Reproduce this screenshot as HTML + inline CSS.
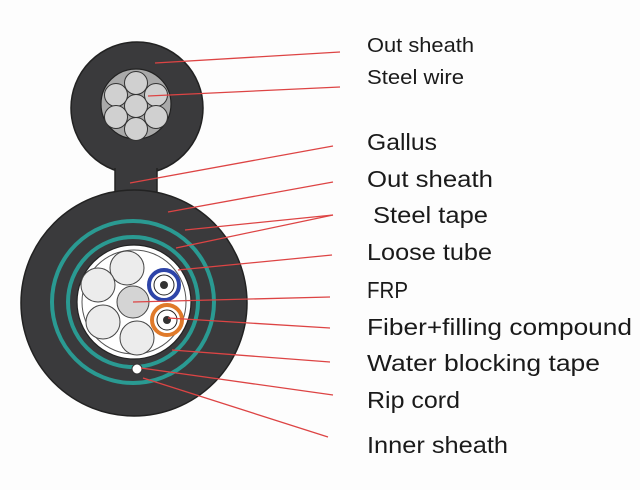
<!DOCTYPE html>
<html><head><meta charset="utf-8"><style>html,body{margin:0;padding:0;background:#fff}svg{display:block}</style></head>
<body>
<svg width="640" height="490" viewBox="0 0 640 490" xmlns="http://www.w3.org/2000/svg">
<rect width="640" height="490" fill="#fdfdfd"/>
<circle cx="137" cy="108" r="66" fill="#3a3a3c" stroke="#222" stroke-width="1.5"/>
<rect x="115" y="165" width="42" height="35" fill="#3a3a3c"/>
<line x1="115" y1="168" x2="115" y2="195" stroke="#222" stroke-width="1.5"/>
<line x1="157" y1="168" x2="157" y2="195" stroke="#222" stroke-width="1.5"/>
<circle cx="136" cy="104" r="35" fill="#a9a9a9" stroke="#222" stroke-width="1.2"/>
<g fill="#d0d0d0" stroke="#333" stroke-width="1">
<circle cx="136" cy="106" r="11.5"/><circle cx="136" cy="83" r="11.5"/><circle cx="136" cy="129" r="11.5"/>
<circle cx="116" cy="95" r="11.5"/><circle cx="156" cy="95" r="11.5"/><circle cx="116" cy="117" r="11.5"/><circle cx="156" cy="117" r="11.5"/>
</g>
<circle cx="134" cy="303" r="113" fill="#3a3a3c" stroke="#222" stroke-width="1.5"/>
<circle cx="133" cy="302" r="81" fill="none" stroke="#2a9a92" stroke-width="4"/>
<circle cx="133" cy="302" r="65" fill="none" stroke="#2a9a92" stroke-width="4"/>
<circle cx="134" cy="302" r="57" fill="#fff" stroke="#222" stroke-width="1.2"/>
<circle cx="134" cy="302" r="52" fill="#fff" stroke="#555" stroke-width="1"/>
<g fill="#ececec" stroke="#444" stroke-width="1">
<circle cx="127" cy="268" r="17"/><circle cx="98" cy="285" r="17"/><circle cx="103" cy="322" r="17"/><circle cx="137" cy="338" r="17"/>
</g>
<circle cx="133" cy="302" r="16" fill="#d4d4d4" stroke="#444" stroke-width="1"/>
<circle cx="164" cy="285" r="15" fill="#fff" stroke="#2d44a8" stroke-width="4"/>
<circle cx="164" cy="285" r="10" fill="none" stroke="#222" stroke-width="1"/>
<circle cx="164" cy="285" r="4" fill="#333"/>
<circle cx="167" cy="320" r="15" fill="#fff" stroke="#e07a2a" stroke-width="4"/>
<circle cx="167" cy="320" r="10" fill="none" stroke="#222" stroke-width="1"/>
<circle cx="167" cy="320" r="4" fill="#333"/>
<circle cx="137" cy="369" r="5" fill="#fff" stroke="#333" stroke-width="1"/>
<g stroke="#d44" stroke-width="1.3" fill="none">
<line x1="155" y1="63" x2="340" y2="52"/>
<line x1="148" y1="96" x2="340" y2="87"/>
<line x1="130" y1="183" x2="333" y2="146"/>
<line x1="168" y1="212" x2="333" y2="182"/>
<line x1="185" y1="230" x2="333" y2="215"/>
<line x1="176" y1="248" x2="333" y2="215"/>
<line x1="178" y1="270" x2="332" y2="255"/>
<line x1="133" y1="302" x2="330" y2="297"/>
<line x1="168" y1="318" x2="330" y2="328"/>
<line x1="172" y1="350" x2="330" y2="362"/>
<line x1="141" y1="368" x2="333" y2="395"/>
<line x1="143" y1="378" x2="328" y2="437"/>
</g>
<g font-family="Liberation Sans, sans-serif" fill="#1a1a1a">
<text x="367" y="52" font-size="20" textLength="107" lengthAdjust="spacingAndGlyphs">Out sheath</text>
<text x="367" y="84" font-size="20" textLength="97" lengthAdjust="spacingAndGlyphs">Steel wire</text>
<text x="367" y="150" font-size="23" textLength="70" lengthAdjust="spacingAndGlyphs">Gallus</text>
<text x="367" y="187" font-size="23" textLength="126" lengthAdjust="spacingAndGlyphs">Out sheath</text>
<text x="373" y="223" font-size="23" textLength="115" lengthAdjust="spacingAndGlyphs">Steel tape</text>
<text x="367" y="260" font-size="23" textLength="125" lengthAdjust="spacingAndGlyphs">Loose tube</text>
<text x="367" y="298" font-size="23" textLength="41" lengthAdjust="spacingAndGlyphs">FRP</text>
<text x="367" y="335" font-size="23" textLength="265" lengthAdjust="spacingAndGlyphs">Fiber+filling compound</text>
<text x="367" y="371" font-size="23" textLength="233" lengthAdjust="spacingAndGlyphs">Water blocking tape</text>
<text x="367" y="408" font-size="23" textLength="93" lengthAdjust="spacingAndGlyphs">Rip cord</text>
<text x="367" y="453" font-size="23" textLength="141" lengthAdjust="spacingAndGlyphs">Inner sheath</text>
</g>
</svg>
</body></html>
